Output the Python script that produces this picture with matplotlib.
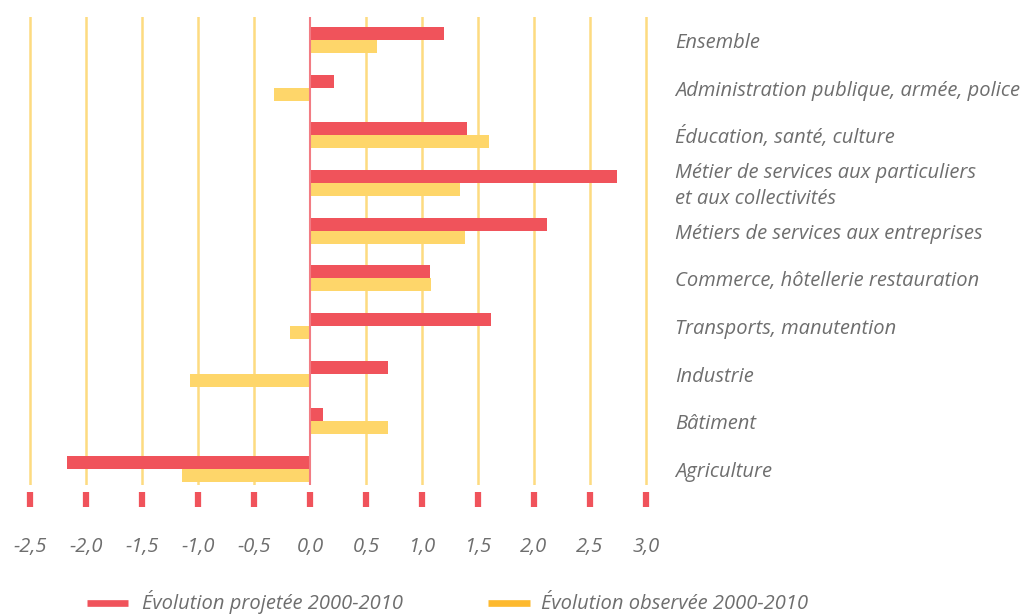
import matplotlib
matplotlib.use("Agg")
import matplotlib.pyplot as plt
from matplotlib.transforms import blended_transform_factory

categories = ["Ensemble", "Administration publique, armée, police",
              "Éducation, santé, culture",
              "Métier de services aux particuliers\net aux collectivités",
              "Métiers de services aux entreprises",
              "Commerce, hôtellerie restauration",
              "Transports, manutention", "Industrie", "Bâtiment", "Agriculture"]
projetee = [1.20, 0.21, 1.40, 2.74, 2.12, 1.07, 1.62, 0.70, 0.12, -2.17]
observee = [0.60, -0.32, 1.60, 1.34, 1.38, 1.08, -0.18, -1.07, 0.70, -1.14]
ticks = [-2.5, -2.0, -1.5, -1.0, -0.5, 0.0, 0.5, 1.0, 1.5, 2.0, 2.5, 3.0]
tick_labels = ["-2,5", "-2,0", "-1,5", "-1,0", "-0,5", "0,0", "0,5", "1,0",
               "1,5", "2,0", "2,5", "3,0"]
legend_labels = ["Évolution projetée 2000-2010", "Évolution observée 2000-2010"]

RED = "#F0535B"
YEL = "#FED66A"
YEL_LEG = "#FDB92E"
GRID = "#FDDB80"
TXT = "#6E6E6E"
FONT = "Open Sans"

W, H = 1027, 614
fig = plt.figure(figsize=(W / 100, H / 100), dpi=100)
ax_l, ax_r, ax_t, ax_b = 0, 660, 17, 485
ax = fig.add_axes([ax_l / W, 1 - ax_b / H, (ax_r - ax_l) / W, (ax_b - ax_t) / H])
ax.set_xlim((ax_l - 310) / 112, (ax_r - 310) / 112)
step = 47.67
ax.set_ylim((ax_b - 40) / step, (ax_t - 40) / step)
ax.axis("off")

for t in ticks:
    if t == 0:
        ax.axvline(t, color="#F27C84", lw=1.5, zorder=3)
    else:
        ax.axvline(t, color=GRID, lw=1.8, zorder=0)

ys = list(range(len(categories)))
bh = 0.275
ax.barh([y - bh / 2 for y in ys], projetee, height=bh, color=RED, zorder=2)
ax.barh([y + bh / 2 for y in ys], observee, height=bh, color=YEL, zorder=2)

tr = ax.get_xaxis_transform()
hpx = ax_b - ax_t
ax.vlines(ticks, -(492 - ax_b) / hpx, -(507 - ax_b) / hpx, transform=tr,
          color=RED, lw=4.5, clip_on=False)
for t, lab in zip(ticks, tick_labels):
    ax.text(t, -(552 - ax_b) / hpx, lab, transform=tr, ha="center", va="baseline",
            fontsize=14.5, style="italic", color=TXT, family=FONT)

tr2 = blended_transform_factory(ax.transAxes, ax.transData)
xl = (675 - ax_l) / (ax_r - ax_l)
for y, c in zip(ys, categories):
    lines = c.split("\n")
    n = len(lines)
    for k, line in enumerate(lines):
        off = (k - (n - 1) / 2) * 26 / step
        ax.text(xl, y + off + 8 / step, line, transform=tr2, ha="left",
                va="baseline", fontsize=14.5, style="italic", color=TXT,
                family=FONT)

# legend
ly = 1 - 603 / H
tb = 1 - 609 / H
for (x0, x1, tx), col, lab in zip([(87, 128, 142), (488, 530, 541)], [RED, YEL_LEG], legend_labels):
    fig.add_artist(plt.Line2D([x0 / W, x1 / W], [ly, ly], color=col, lw=4.8,
                              solid_capstyle="butt"))
    fig.text(tx / W, tb, lab, ha="left", va="baseline", fontsize=14.5,
             style="italic", color=TXT, family=FONT)

fig.savefig("out.png", dpi=100)
